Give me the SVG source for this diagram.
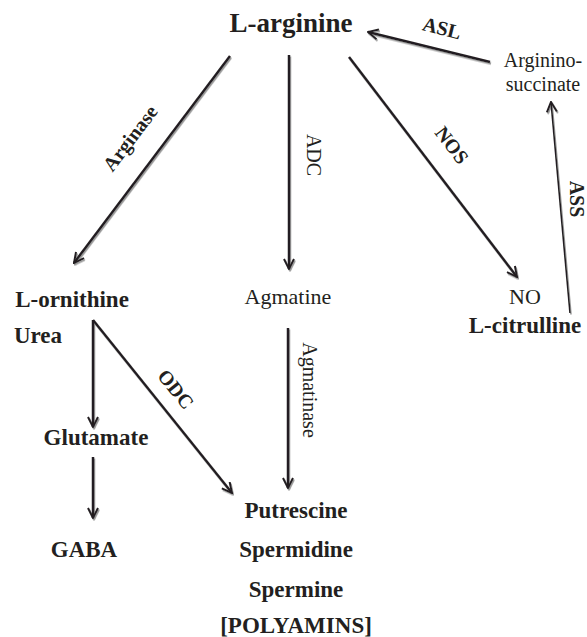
<svg xmlns="http://www.w3.org/2000/svg" width="587" height="637" viewBox="0 0 587 637">
<defs>
<style>
text{fill:#231f20;text-anchor:middle;font-family:"Liberation Serif","Times New Roman",serif}
.b{font-weight:bold;font-size:23px}
.r{font-size:22px}
.eb{font-weight:bold;font-size:20px}
.er{font-size:20px}
.c{stroke:#231f20;stroke-width:2.5;fill:none;marker-end:url(#ah)}
.t{stroke:#231f20;stroke-width:1.6;fill:none;marker-end:url(#ah)}
</style>
<marker id="ah" viewBox="0 0 12 12" refX="11" refY="6" markerWidth="12" markerHeight="12" markerUnits="userSpaceOnUse" orient="auto">
<path d="M1,1 L11,6 L1,11" fill="none" stroke="#231f20" stroke-width="2"/>
</marker>
<filter id="sh" x="-10%" y="-10%" width="120%" height="120%">
<feDropShadow dx="1" dy="1.5" stdDeviation="0.6" flood-color="#9a9a9a"/>
</filter>
</defs>
<rect width="587" height="637" fill="#fff"/>
<g id="connectors" filter="url(#sh)">
<line class="c" x1="230" y1="56" x2="74" y2="263"/>
<line class="c" x1="289" y1="55" x2="289" y2="269"/>
<line class="c" x1="349" y1="57" x2="517" y2="277"/>
<line class="c" x1="490" y1="62" x2="368" y2="32"/>
<line class="t" x1="570" y1="313" x2="551" y2="102"/>
<line class="c" x1="93" y1="320" x2="232" y2="493"/>
<line class="c" x1="93" y1="320" x2="93" y2="427"/>
<line class="c" x1="93" y1="457" x2="93" y2="518"/>
<line class="c" x1="288" y1="328" x2="288" y2="488"/>
</g>
<g id="labels">
<text class="eb" transform="translate(130,138) rotate(-53)" dy="0.35em">Arginase</text>
<text class="er" transform="translate(314,155) rotate(90)" dy="0.35em">ADC</text>
<text class="eb" transform="translate(452,145) rotate(52.7)" dy="0.35em">NOS</text>
<text class="eb" transform="translate(442,28) rotate(14)" dy="0.35em">ASL</text>
<text class="eb" transform="translate(577,199) rotate(90)" dy="0.35em">ASS</text>
<text class="eb" transform="translate(176,389) rotate(51)" dy="0.35em">ODC</text>
<text class="er" transform="translate(310,390) rotate(90)" dy="0.35em">Agmatinase</text>
</g>
<g id="nodes">
<g id="n-arginine"><text class="b" x="291" y="32" style="font-size:27px">L-arginine</text></g>
<g id="n-argininosuccinate"><text class="r" x="543" y="67" style="font-size:20px">Arginino-</text><text class="r" x="543" y="91" style="font-size:20px">succinate</text></g>
<g id="n-ornithine"><text class="b" x="72" y="307">L-ornithine</text><text class="b" x="38" y="343">Urea</text></g>
<g id="n-agmatine"><text class="r" x="288" y="304">Agmatine</text></g>
<g id="n-no"><text class="r" x="525" y="304">NO</text><text class="b" x="525" y="333">L-citrulline</text></g>
<g id="n-glutamate"><text class="b" x="96" y="445">Glutamate</text></g>
<g id="n-gaba"><text class="b" x="84" y="557">GABA</text></g>
<g id="n-polyamines">
<text class="b" x="296" y="518">Putrescine</text>
<text class="b" x="296" y="557">Spermidine</text>
<text class="b" x="296" y="597">Spermine</text>
<text class="b" x="296" y="633">[POLYAMINS]</text>
</g>
</g>
</svg>
